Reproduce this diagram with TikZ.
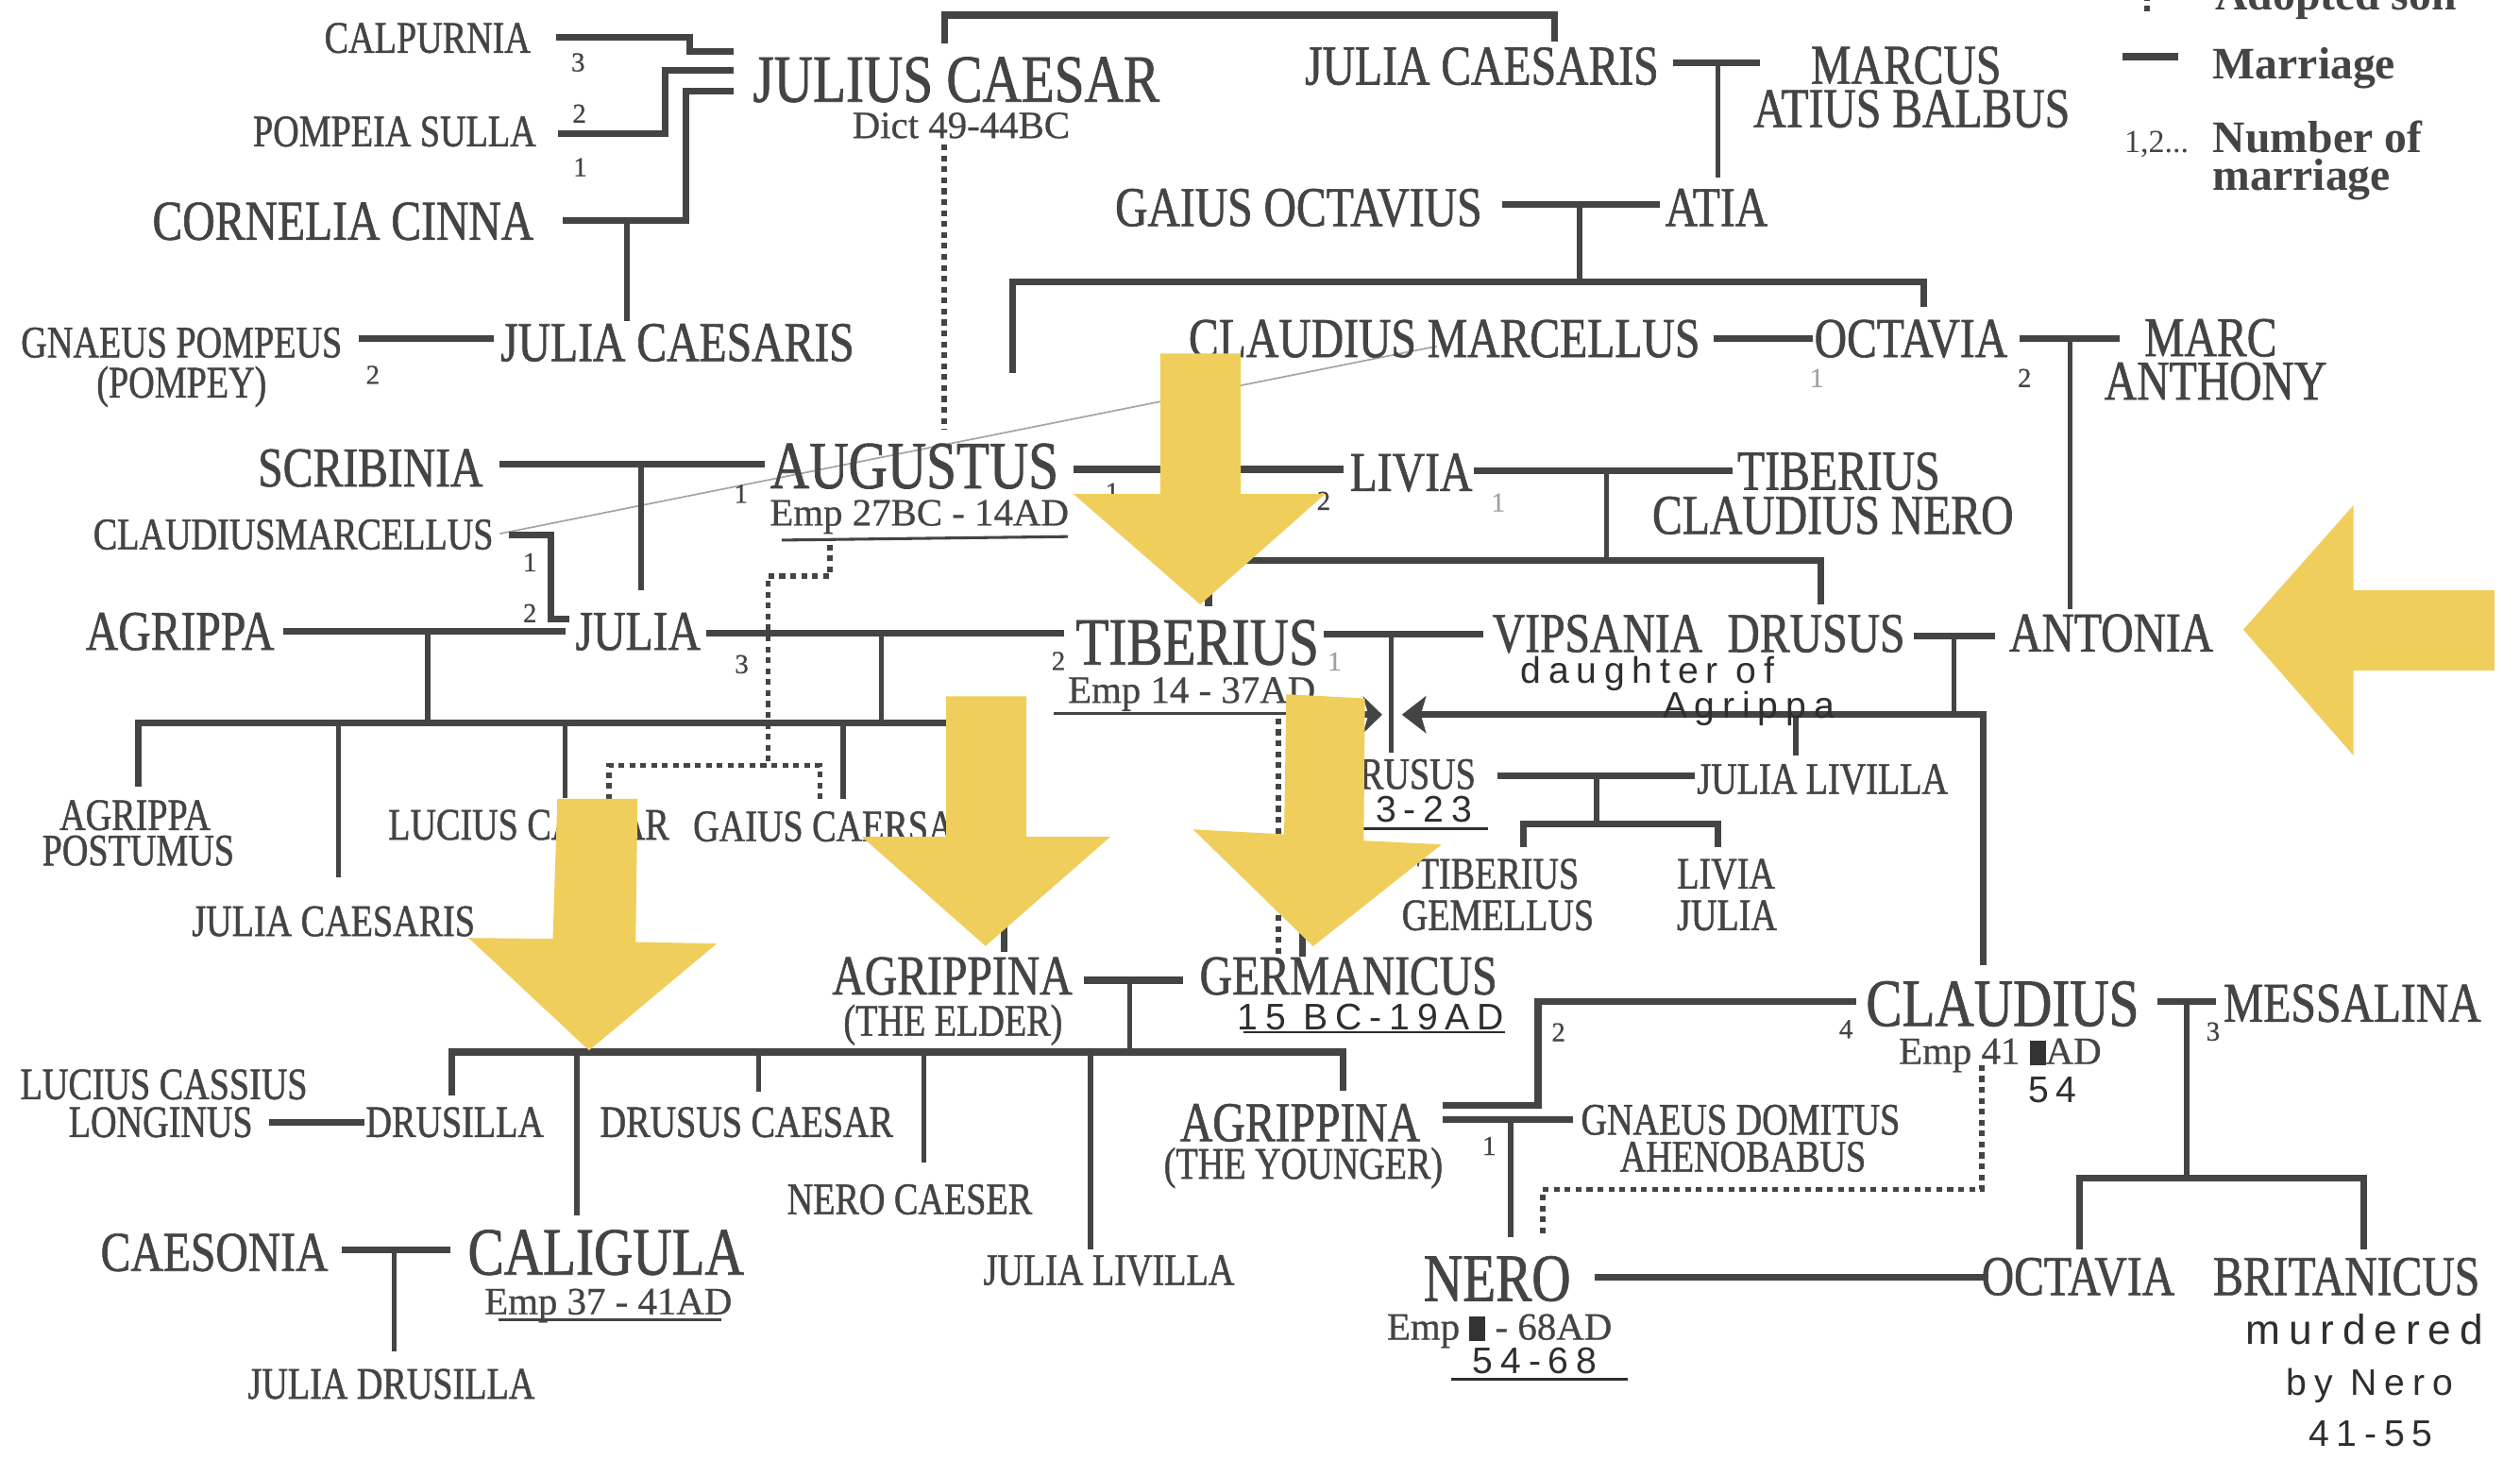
\documentclass[tikz,border=0pt]{standalone}
\usepackage{fontspec}
\setmainfont[FakeStretch=0.8,FakeBold=1.0]{Liberation Serif}
\newfontfamily\subfont[FakeBold=0.6]{Liberation Serif}
\newfontfamily\legfont{Liberation Serif}
\newfontfamily\handfont[LetterSpace=20]{Liberation Sans}
\definecolor{ink}{HTML}{444444}
\definecolor{txt}{HTML}{444444}
\definecolor{pale}{HTML}{A0A0A0}
\definecolor{handc}{HTML}{2E2E2E}
\definecolor{arrowy}{RGB}{240,206,92}
\newcommand\inkblot{{\color{black!80}\rule[-0.3pt]{5pt}{7.5pt}}}
\tikzset{
  nm/.style={inner sep=0pt, text=txt},
  sA/.style={nm, font=\fontsize{21}{21}\selectfont, text height=13.9pt, text depth=0pt},
  sB/.style={nm, font=\fontsize{17.5}{17.5}\selectfont, text height=11.6pt, text depth=0pt},
  sC/.style={nm, font=\fontsize{14}{14}\selectfont, text height=9.3pt, text depth=0pt},
  tsub/.style={nm, font=\subfont\fontsize{12}{12}\selectfont, text height=7.9pt, text depth=0pt},
  tnum/.style={nm, font=\subfont\fontsize{8.5}{8.5}\selectfont, text height=5.8pt, text depth=0pt},
  pnum/.style={tnum, text=pale},
  thand/.style={inner sep=0pt, font=\handfont\fontsize{11.5}{11.5}\selectfont, text=handc},
  tleg/.style={nm, font=\legfont\bfseries\fontsize{14}{14}\selectfont, anchor=base west},
  ln/.style={draw=ink, line width=1.6pt},
  mr/.style={draw=ink, line width=2.1pt},
  adopt/.style={draw=ink, line width=1.6pt, dash pattern=on 1.8pt off 1.6pt},
  uline/.style={draw=ink, line width=0.9pt},
  hline/.style={draw=handc, line width=0.7pt},
  pencil/.style={draw=black!35, line width=0.5pt},
  yel/.style={fill=arrowy, draw=none},
}
\begin{document}
\begin{tikzpicture}[x=0.5pt,y=-0.5pt]
\useasboundingbox (0,0) rectangle (1568,908);
\clip (0,0) rectangle (1568,908);
\fill[white] (0,0) rectangle (1568,908);

% ---------- connectors ----------
\draw[pencil] (311,332) -- (894,215.4);
\draw[mr] (346,23) -- (429,23) -- (429,32) -- (456.5,32);
\draw[mr] (347,83) -- (414,83) -- (414,44) -- (456.5,44);
\draw[mr] (350,137) -- (427,137) -- (427,56.8) -- (456.5,56.8);
\draw[ln] (390,137) -- (390,200);
\draw[mr] (223,210.5) -- (307,210.5);
\draw[adopt] (587.6,90) -- (587.6,267);
\draw[mr] (587.6,27) -- (587.6,9.4) -- (967.4,9.4) -- (967.4,26);
\draw[mr] (1041,39.2) -- (1095,39.2);
\draw[ln] (1069,39.2) -- (1069,110.6);
\draw[mr] (934.6,127.3) -- (1033,127.3);
\draw[ln] (982.8,127.3) -- (982.8,175.2);
\draw[mr] (630,232) -- (630,175.2) -- (1197,175.2) -- (1197,191);
\draw[mr] (1066,210.5) -- (1128,210.5);
\draw[mr] (1256.8,210.5) -- (1319,210.5);
\draw[ln] (1288,210.5) -- (1288,379);
\draw[mr] (311,289) -- (476,289);
\draw[ln] (399,289) -- (399,367);
\draw[mr] (668,292) -- (836,292);
\draw[mr] (917,292.7) -- (1078,292.7);
\draw[ln] (999.7,292.7) -- (999.7,348.5);
\draw[mr] (752,377) -- (752,348.5) -- (1133,348.5) -- (1133,376);
\draw[mr] (316.6,333) -- (342.8,333) -- (342.8,385) -- (354,385);
\draw[mr] (176,392.5) -- (352,392.5);
\draw[ln] (266,392.5) -- (266,449.5);
\draw[mr] (86,489.6) -- (86,449.5) -- (625,449.5) -- (625,592);
\draw[ln] (210.5,449.5) -- (210.5,546);
\draw[ln] (351.5,449.5) -- (351.5,496.5);
\draw[ln] (524.7,449.5) -- (524.7,497);
\draw[mr] (439.5,393.7) -- (662,393.7);
\draw[ln] (548.5,393.7) -- (548.5,449.5);
\draw[adopt] (516.4,338.8) -- (516.4,358.5) -- (477.8,358.5) -- (477.8,476.3);
\draw[adopt] (378.8,497.5) -- (378.8,476.3) -- (510.3,476.3) -- (510.3,497.5);
\draw[adopt] (795.4,447) -- (795.4,595);
\draw[mr] (823.6,394.6) -- (923,394.6);
\draw[ln] (865.5,394.6) -- (865.5,468);
\draw[mr] (1234,600.5) -- (1234,444.6) -- (882,444.6);
\fill[ink] (872.3,444.6) -- (887.5,432.8) -- (884,444.6) -- (887.5,456.3) -- cycle;
\draw[mr] (810.5,595) -- (810.5,444.6) -- (852,444.6);
\fill[ink] (860,444.6) -- (848,433) -- (851.5,444.6) -- (848,456.3) -- cycle;
\draw[mr] (1191,395.6) -- (1241.6,395.6);
\draw[ln] (1215.7,395.6) -- (1215.7,444.6);
\draw[ln] (1117.5,444.6) -- (1117.5,470);
\draw[mr] (932,482.8) -- (1054.6,482.8);
\draw[ln] (993.5,482.8) -- (993.5,512.5);
\draw[mr] (948,526.8) -- (948,512.5) -- (1069,512.5) -- (1069,526.8);
\draw[mr] (674.5,609.8) -- (736,609.8);
\draw[ln] (703,609.8) -- (703,654.5);
\draw[mr] (281,681.6) -- (281,654.5) -- (835.5,654.5) -- (835.5,678.4);
\draw[ln] (359,654.5) -- (359,756);
\draw[ln] (472,654.5) -- (472,679);
\draw[ln] (575,654.5) -- (575,723);
\draw[ln] (678.6,654.5) -- (678.6,777);
\draw[mr] (897.8,687.7) -- (957,687.7) -- (957,622.8) -- (1155,622.8);
\draw[mr] (897.8,696.7) -- (979,696.7);
\draw[ln] (940,696.7) -- (940,769.7);
\draw[adopt] (1233,662.6) -- (1233,740) -- (960,740) -- (960,768.3);
\draw[mr] (1342.5,622.8) -- (1379,622.8);
\draw[ln] (1360.7,622.8) -- (1360.7,732.7);
\draw[mr] (1294,777.3) -- (1294,732.7) -- (1470.7,732.7) -- (1470.7,777.3);
\draw[mr] (992.5,794.7) -- (1234,794.7);
\draw[mr] (167.5,698.3) -- (226.7,698.3);
\draw[mr] (212.5,777.3) -- (280,777.3);
\draw[ln] (245.4,777.3) -- (245.4,840.8);
% underlines
\draw[uline] (486.4,336) -- (664.3,333.8);
\draw[uline] (655.4,443.6) -- (802,443.6);
\draw[uline] (310,821) -- (449,821);
\draw[hline] (774,642) -- (936.6,642);
\draw[hline] (845,515.5) -- (926,515.5);
\draw[hline] (903,858) -- (1013,858);
% legend symbols
\draw[mr] (1320.5,35.3) -- (1355.5,35.3);
\draw[adopt] (1336,-10) -- (1336,8);

% ---------- names ----------
\node[sC] (calp) at (266,23.5) {CALPURNIA};
\node[sC] (pomp) at (245.5,81.7) {POMPEIA SULLA};
\node[sB] (corn) at (213.5,137.5) {CORNELIA CINNA};
\node[sC] (gnaeus) at (113,213) {GNAEUS POMPEUS};
\node[sC] (pompey) at (113,238) {(POMPEY)};
\node[sB] (juliaL) at (421.5,213) {JULIA CAESARIS};
\node[sA] (caesar) at (595,49.4) {JULIUS CAESAR};
\node[tsub] (dict) at (598,78) {Dict 49-44BC};
\node[sB] (juliaT) at (922,41) {JULIA CAESARIS};
\node[sB] (marcus) at (1186,40.5) {MARCUS};
\node[sB] (balbus) at (1189.5,67.5) {ATIUS BALBUS};
\node[sB] (gaius) at (808,129) {GAIUS OCTAVIUS};
\node[sB] (atia) at (1068,129) {ATIA};
\node[sB] (cmarc) at (898.7,210.5) {CLAUDIUS MARCELLUS};
\node[sB] (octT) at (1189,210.5) {OCTAVIA};
\node[sB] (marc) at (1375.5,210) {MARC};
\node[sB] (anthony) at (1378.6,237) {ANTHONY};
\node[sB] (scrib) at (230.5,291) {SCRIBINIA};
\node[sA] (aug) at (569,289.8) {AUGUSTUS};
\node[tsub] (augemp) at (572,319) {Emp 27BC - 14AD};
\node[sB] (livia) at (878,293.8) {LIVIA};
\node[sB] (tcn1) at (1144,293) {TIBERIUS};
\node[sB] (tcn2) at (1140.5,320.5) {CLAUDIUS NERO};
\node[sC] (cmarcL) at (182.5,332.4) {CLAUDIUSMARCELLUS};
\node[sB] (agrippa) at (112,392.7) {AGRIPPA};
\node[sB] (julia) at (397,392.7) {JULIA};
\node[sA] (tib) at (745,399.5) {TIBERIUS};
\node[tsub] (tibemp) at (741.5,429.3) {Emp 14 - 37AD};
\node[sB] (vips) at (994,394) {VIPSANIA};
\node[sB] (drusus) at (1130,394) {DRUSUS};
\node[sB] (antonia) at (1313.7,393.7) {ANTONIA};
\node[thand] (dau1) at (1025,419) {daughter of};
\node[thand] (dau2) at (1088,441) {Agrippa};
\node[sC] (postA) at (84,507) {AGRIPPA};
\node[sC] (postB) at (86,529) {POSTUMUS};
\node[sC] (lucius) at (329,513) {LUCIUS CAESAR};
\node[sC] (gaiusC) at (520,514) {GAIUS CAERSAR};
\node[sC] (drusJ) at (874,481.5) {DRUSUS};
\node[thand] (d323) at (886,503.5) {3-23};
\node[sC] (jlivR) at (1134,484.5) {JULIA LIVILLA};
\node[sC] (gem1) at (932,543.5) {TIBERIUS};
\node[sC] (gem2) at (932,569.3) {GEMELLUS};
\node[sC] (lj1) at (1074,543.5) {LIVIA};
\node[sC] (lj2) at (1074.5,569.3) {JULIA};
\node[sC] (juliaB) at (207.5,573) {JULIA CAESARIS};
\node[sB] (agrE1) at (592.5,607) {AGRIPPINA};
\node[sC] (agrE2) at (593,635) {(THE ELDER)};
\node[sB] (germ) at (839,607) {GERMANICUS};
\node[thand] (germd) at (853,632.5) {15 BC-19AD};
\node[sB] (agrY1) at (809,698.3) {AGRIPPINA};
\node[sC] (agrY2) at (811,724) {(THE YOUNGER)};
\node[sC] (gdom1) at (1083,696.5) {GNAEUS DOMITUS};
\node[sC] (gdom2) at (1084.5,719.5) {AHENOBABUS};
\node[sA] (claud) at (1246,624.3) {CLAUDIUS};
\node[tsub] (claudemp) at (1244.5,654) {Emp 41 \inkblot AD};
\node[thand] (c54) at (1277,678) {54};
\node[sB] (mess) at (1463.6,624) {MESSALINA};
\node[sC] (lcass1) at (102,674.5) {LUCIUS CASSIUS};
\node[sC] (lcass2) at (100,698) {LONGINUS};
\node[sC] (drusilla) at (283,698) {DRUSILLA};
\node[sC] (drusC) at (464.6,698) {DRUSUS CAESAR};
\node[sC] (neroC) at (566,746) {NERO CAESER};
\node[sC] (jlivB) at (690,790) {JULIA LIVILLA};
\node[sB] (caeson) at (133.4,779) {CAESONIA};
\node[sA] (calig) at (377,779) {CALIGULA};
\node[tsub] (caligemp) at (378.5,809.7) {Emp 37 - 41AD};
\node[sC] (jdrus) at (243.5,860.8) {JULIA DRUSILLA};
\node[sA] (nero) at (931.6,795.3) {NERO};
\node[tsub] (neroemp) at (933,825.5) {Emp \inkblot{} - 68AD};
\node[thand] (n5468) at (955,846.5) {54-68};
\node[sB] (octB) at (1293,794) {OCTAVIA};
\node[sB] (brit) at (1460,794) {BRITANICUS};
\node[thand, anchor=west, font=\handfont\fontsize{13}{13}\selectfont] (murd1) at (1397,827) {murdered};
\node[thand] (murd2) at (1474.5,862) {by Nero};
\node[thand] (murd3) at (1475,892) {41-55};

% marriage numbers
\node[tnum] (k1) at (359.7,38.6) {3};
\node[tnum] (k2) at (360.5,70.5) {2};
\node[tnum] (k3) at (361,103.8) {1};
\node[tnum] (k4) at (232,233) {2};
\node[tnum] (k5) at (461,307) {1};
\node[tnum] (k6) at (692,306) {1};
\node[tnum] (k7) at (823.6,311.4) {2};
\node[pnum] (k8) at (932.2,312.4) {1};
\node[pnum] (k9) at (1130.4,235) {1};
\node[tnum] (k10) at (1259.7,235) {2};
\node[tnum] (k11) at (329.7,349.6) {1};
\node[tnum] (k12) at (329.7,381.3) {2};
\node[tnum] (k13) at (461.5,413) {3};
\node[tnum] (k14) at (658.6,411) {2};
\node[pnum] (k15) at (830.4,411.3) {1};
\node[tnum] (k16) at (969.7,642) {2};
\node[tnum] (k17) at (1148.6,640) {4};
\node[tnum] (k18) at (1377,641.5) {3};
\node[tnum] (k19) at (926.6,712.7) {1};

% legend
\node[tleg] (lg0) at (1378,6) {Adopted son};
\node[tleg] (lg1) at (1376.6,49) {Marriage};
\node[tleg] (lg2) at (1376.6,95) {Number of};
\node[tleg] (lg3) at (1376.6,118.5) {marriage};
\node[nm, font=\legfont\fontsize{10}{10}\selectfont, anchor=base west] (lg4) at (1321.5,95) {1,2...};

% ---------- yellow arrows ----------
\fill[yel] (722,220) -- (772,220) -- (772,307.4) -- (824.5,307.4) -- (746.8,376) -- (668,307.4) -- (722,307.4) -- cycle;
\fill[yel] (1552,367.2) -- (1464.4,367.2) -- (1464.4,314.3) -- (1395.8,391.7) -- (1464.4,470) -- (1464.4,417.2) -- (1552,417.2) -- cycle;
\fill[yel] (346.8,497) -- (396.7,497) -- (395.5,586) -- (446,587) -- (366.5,653.4) -- (291.6,583.5) -- (344,584) -- cycle;
\fill[yel] (588.7,433.2) -- (638.6,433.2) -- (638.6,520.6) -- (690.8,520.6) -- (613.2,588.5) -- (536.3,520.6) -- (588.7,520.6) -- cycle;
\fill[yel] (800.4,431.9) -- (849.3,434.5) -- (848.5,523) -- (897,525.3) -- (817,588.7) -- (742.4,516) -- (799,519) -- cycle;
\end{tikzpicture}
\end{document}
